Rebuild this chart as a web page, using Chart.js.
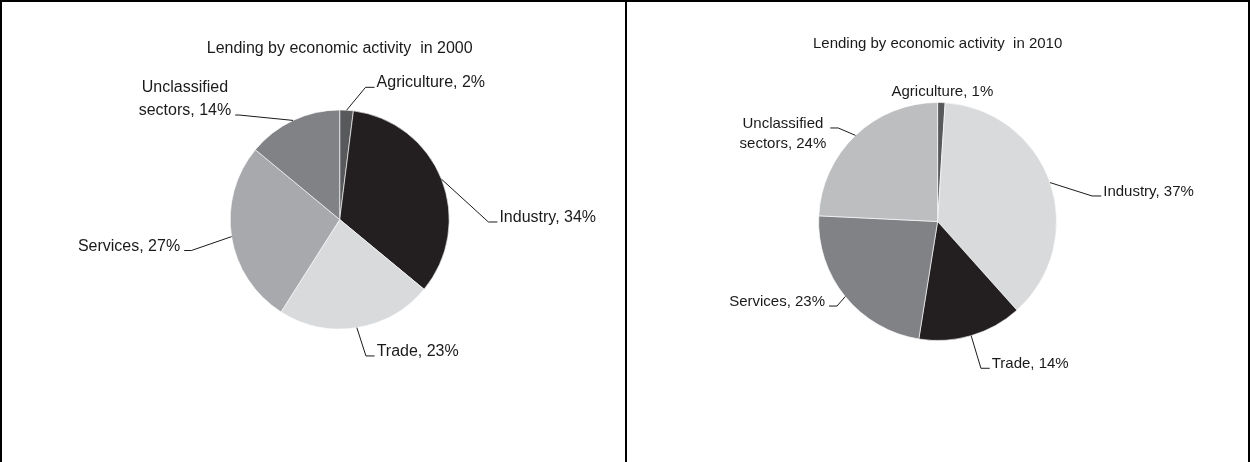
<!DOCTYPE html>
<html>
<head>
<meta charset="utf-8">
<title>Lending by economic activity</title>
<script src="https://cdn.jsdelivr.net/npm/chart.js@4.4.0/dist/chart.umd.min.js"></script>
<style>
    body { margin: 0; background: #fff; }
    #wrap { position: relative; width: 1250px; height: 462px; overflow: hidden; }
    .panel { position: absolute; top: 0; width: 625px; height: 462px; }
    .rule { position: absolute; background: #000; }
</style>
</head>
<body>
<div id="wrap">
    <div class="panel" style="left:0"><canvas id="pie2000" width="625" height="462"></canvas></div>
    <div class="panel" style="left:625px"><canvas id="pie2010" width="625" height="462"></canvas></div>
    <div class="rule" style="left:0;top:0;width:1250px;height:2px"></div>
    <div class="rule" style="left:0;top:0;width:2px;height:462px"></div>
    <div class="rule" style="left:625px;top:0;width:2px;height:462px"></div>
    <div class="rule" style="left:1248px;top:0;width:2px;height:462px"></div>
</div>
<script>
var sectors = ['Agriculture', 'Industry', 'Trade', 'Services', 'Unclassified sectors'];
var share2000 = [2, 34, 23, 27, 14];
var share2010 = [1, 37, 14, 23, 24];

var shades2000 = ['#58595b', '#231f20', '#d9dadb', '#a7a9ac', '#808285'];
var shades2010 = ['#58595b', '#d9dadb', '#231f20', '#808285', '#bcbec0'];

// leader end relative to the slice edge, length of the flat hook, and which text line it points at
var spots2000 = [
    {dx: 28, dy: -22.9, hook: 9, line: 0},
    {dx: 55.9, dy: 42.8, hook: 9, line: 0},
    {dx: 17.8, dy: 28.3, hook: 8.7, line: 0},
    {dx: -47.4, dy: 13.9, hook: 7.2, line: 0},
    {dx: -57.9, dy: -5.4, hook: 3.9, line: 1}
];
var spots2010 = [
    {dx: 1, dy: -7, hook: 0, line: 0},
    {dx: 51.2, dy: 13.4, hook: 9.2, line: 0},
    {dx: 18.6, dy: 32.6, hook: 8.8, line: 0},
    {dx: -16.2, dy: 9.5, hook: 8, line: 0},
    {dx: -25.2, dy: -7.4, hook: 7.9, line: 0}
];

function labelLines(name, value) {
    var words = name.split(' ');
    if (words.length > 1) {
        return [words[0], words.slice(1).join(' ') + ', ' + value + '%'];
    }
    return [name + ', ' + value + '%'];
}

// title plus the Excel style labels with bent leader lines
var sliceLabels = {
    id: 'sliceLabels',
    afterDraw: function (chart, args, opts) {
        var ctx = chart.ctx;
        var meta = chart.getDatasetMeta(0);
        var values = chart.data.datasets[0].data;
        ctx.save();
        ctx.font = opts.size + 'px "Liberation Sans", Arial, sans-serif';
        ctx.fillStyle = '#1a1a1a';
        ctx.strokeStyle = '#1a1a1a';
        ctx.lineWidth = 1;
        ctx.textBaseline = 'alphabetic';
        ctx.textAlign = 'center';

        var c = meta.data[0].getProps(['x', 'y'], true);
        ctx.fillText(opts.title, c.x, opts.titleY);

        meta.data.forEach(function (arc, i) {
            var p = arc.getProps(['x', 'y', 'startAngle', 'endAngle', 'outerRadius'], true);
            var mid = (p.startAngle + p.endAngle) / 2;
            var ex = p.x + Math.cos(mid) * p.outerRadius;
            var ey = p.y + Math.sin(mid) * p.outerRadius;
            var spot = opts.spots[i];
            var lines = labelLines(chart.data.labels[i], values[i]);
            var endX = ex + spot.dx;
            var endY = ey + spot.dy;
            var maxW = 0;
            lines.forEach(function (t) { maxW = Math.max(maxW, ctx.measureText(t).width); });

            var cx;
            if (spot.hook === 0) {
                cx = endX;
            } else {
                var side = spot.dx > 0 ? 1 : -1;
                ctx.beginPath();
                ctx.moveTo(ex, ey);
                ctx.lineTo(endX - side * spot.hook, endY);
                ctx.lineTo(endX, endY);
                ctx.stroke();
                cx = side > 0 ? endX + 2 + maxW / 2 : endX - 4 - maxW / 2;
            }
            lines.forEach(function (t, j) {
                ctx.fillText(t, cx, endY + (j - spot.line) * opts.lineHeight);
            });
        });
        ctx.restore();
    }
};

function drawPie(id, values, shades, radius, padding, labelOpts) {
    return new Chart(document.getElementById(id), {
        type: 'pie',
        data: {
            labels: sectors,
            datasets: [{
                data: values,
                backgroundColor: shades,
                borderColor: 'rgba(255,255,255,0.8)',
                borderWidth: 0.8,
                radius: radius
            }]
        },
        options: {
            responsive: false,
            animation: false,
            layout: { padding: padding },
            plugins: {
                legend: { display: false },
                tooltip: { enabled: false },
                sliceLabels: labelOpts
            }
        },
        plugins: [sliceLabels]
    });
}

drawPie('pie2000', share2000, shades2000, 109.5,
    {left: 230.2, right: 175.8, top: 110, bottom: 133},
    {title: 'Lending by economic activity  in 2000', titleY: 52.7, size: 16, lineHeight: 22.6, spots: spots2000});

drawPie('pie2010', share2010, shades2010, 119,
    {left: 193.6, right: 193.4, top: 102.5, bottom: 121.5},
    {title: 'Lending by economic activity  in 2010', titleY: 48, size: 15, lineHeight: 20, spots: spots2010});
</script>
</body>
</html>
